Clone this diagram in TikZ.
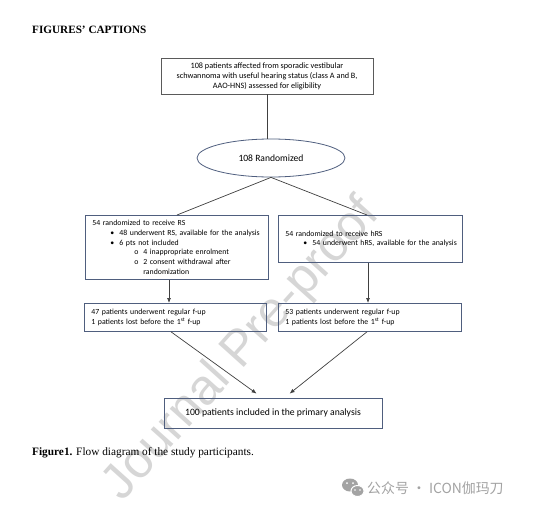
\documentclass[tikz,border=0pt]{standalone}
\usepackage{fontspec}
\setmainfont{Liberation Serif}
\newfontfamily\carl[WordSpace=0.8]{Carlito}
\newfontfamily\carlw{Carlito}
\newfontfamily\wmfont{Liberation Sans}
\newfontfamily\cjk{Noto Sans CJK SC}
\usetikzlibrary{shapes.geometric,arrows.meta,calc}
\definecolor{boxline}{HTML}{4F5E7E}
\definecolor{topline}{HTML}{5A5A5A}
\definecolor{conn}{HTML}{404040}
\definecolor{wmgray}{HTML}{D6D6D6}
\definecolor{wcgray}{HTML}{A3A3A3}
\newcommand{\bitem}[1]{\mbox{\hspace*{18pt}\makebox[9pt][l]{\textbullet}#1}}
\newcommand{\oitem}[1]{\mbox{\hspace*{42pt}\makebox[9pt][l]{o}#1}}
\newcommand{\contline}[1]{\mbox{\hspace*{51pt}#1}}
\tikzset{
  box/.style={draw=boxline, line width=0.8pt, inner sep=0pt,
    font=\carl\fontsize{7.8}{9.7}\selectfont},
  lbox/.style={box, anchor=north west, inner xsep=7pt, inner ysep=0pt, align=left},
  conn/.style={draw=conn, line width=0.7pt},
  arr/.style={conn, -{Latex[length=5pt,width=4pt]}},
  wm/.style={text=wmgray, font=\wmfont\fontsize{50}{50}\selectfont, inner sep=0pt},
}
\begin{document}
\begin{tikzpicture}[x=1pt,y=-1pt]
\fill[white] (0,0) rectangle (536,509);
\useasboundingbox (0,0) rectangle (536,509);

% watermark
\node[wm, rotate=48] (wmark) at (242,350) {Journal Pre-proof};

% titles
\node[anchor=base west, inner sep=0pt, font=\bfseries\fontsize{11.2}{13}\selectfont] (title) at (32,33) {FIGURES’ CAPTIONS};
\node[anchor=base west, inner sep=0pt, font=\fontsize{11.3}{13}\selectfont] (cap) at (32,455) {\textbf{Figure1.} Flow diagram of the study participants.};

% boxes
\node[box, draw=topline, minimum width=212pt, minimum height=36pt, align=center, font=\carlw\fontsize{8.2}{10}\selectfont] (top) at (267,76)
  {108 patients affected from sporadic vestibular\\schwannoma with useful hearing status (class A and B,\\AAO-HNS) assessed for eligibility};
\node[box, ellipse, minimum width=148pt, minimum height=38pt, font=\carlw\fontsize{9.6}{11}\selectfont] (ell) at (271,158) {108 Randomized};

\node[lbox, text width=169pt, minimum height=64pt] (lb) at (85,215)
  {\mbox{54 randomized to receive RS}\\
   \bitem{48 underwent RS, available for the analysis}\\
   \bitem{6 pts not included}\\
   \oitem{4 inappropriate enrolment}\\
   \oitem{2 consent withdrawal after}\\
   \contline{randomization}};
\node[lbox, text width=170pt, minimum height=47pt] (rb) at (278,215)
  {\mbox{54 randomized to receive hRS}\\
   \bitem{54 underwent hRS, available for the analysis}};

\node[lbox, text width=168pt, minimum height=28pt] (lf) at (84,303)
  {47 patients underwent regular f-up\\1 patients lost before the 1\textsuperscript{st} f-up};
\node[lbox, text width=169pt, minimum height=28pt] (rf) at (278,303)
  {53 patients underwent regular f-up\\1 patients lost before the 1\textsuperscript{st} f-up};

\node[box, minimum width=218pt, minimum height=30pt, font=\carlw\fontsize{9.7}{11}\selectfont] (bot) at (273,413)
  {100 patients included in the primary analysis};

% connectors
\draw[conn] (top.south) -- (top.south |- ell.north);
\draw[conn] (ell.south) -- ([xshift=92pt]lb.north west);
\draw[conn] (ell.south) -- ([xshift=89pt]rb.north west);
\draw[arr] ([xshift=84pt]lb.south west) -- ([xshift=84pt]lb.south west |- lf.north);
\draw[arr] ([xshift=90pt]rb.south west) -- ([xshift=90pt]rb.south west |- rf.north);
\draw[arr] ([xshift=87pt]lf.south west) -- ([xshift=93pt,yshift=4pt]bot.north west);
\draw[arr] ([xshift=89pt]rf.south west) -- ([xshift=126pt,yshift=4pt]bot.north west);

% wechat mark
\fill[wcgray] (350,485) ellipse [x radius=8pt, y radius=6.5pt];
\filldraw[fill=wcgray, draw=white, line width=1pt] (357.5,491) ellipse [x radius=6.5pt, y radius=5.5pt];
\fill[white] (347,483) circle (1pt) (353,483) circle (1pt) (355,490) circle (0.8pt) (360,490) circle (0.8pt);
\node[anchor=west, inner sep=0pt, text=wcgray, font=\cjk\fontsize{13.9}{14}\selectfont] (wc) at (367,488) {公众号 · ICON伽玛刀};
\end{tikzpicture}
\end{document}
